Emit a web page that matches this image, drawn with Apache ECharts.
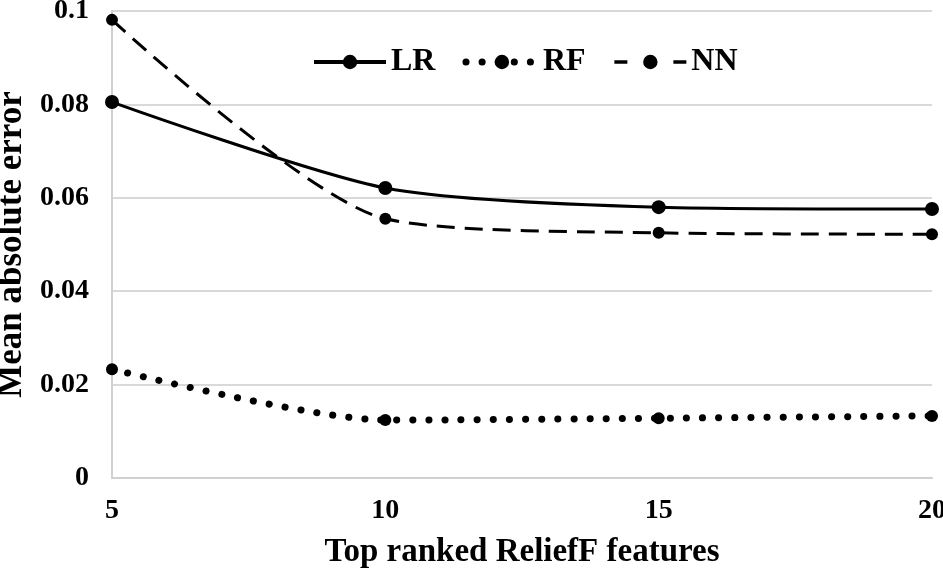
<!DOCTYPE html>
<html><head><meta charset="utf-8">
<script src="https://cdn.jsdelivr.net/npm/echarts@6/dist/echarts.min.js"></script>
<style>html,body{margin:0;padding:0;background:#fff}#c{width:943px;height:572px}</style>
</head><body><div id="c"></div>
<script>
const features = [5, 10, 15, 20];
const lr = [0.0805, 0.0621, 0.058, 0.0576];
const rf = [0.0233, 0.0124, 0.0128, 0.0133];
const nn = [0.0981, 0.0555, 0.0525, 0.0522];
const seriesNames = ['LR', 'RF', 'NN'];

const font = '"Liberation Serif", "DejaVu Serif", serif';
function pairs(vals){ return features.map((f,i)=>[f, vals[i]]); }

const chart = echarts.init(document.getElementById('c'), null, {renderer:'canvas'});
chart.setOption({
  animation:false,
  backgroundColor:'#fff',
  grid:{left:112, right:11, top:11, bottom:94, containLabel:false, outerBoundsMode:'none'},
  legend:{
    top:41, left:307, itemGap:27, itemWidth:72, itemHeight:18,
    textStyle:{fontFamily:font, fontWeight:'bold', fontSize:32, color:'#000'},
    data:[
      {name:seriesNames[0], lineStyle:{width:4}},
      {name:seriesNames[1], lineStyle:{width:7, type:[0.1,16], cap:'round'}},
      {name:seriesNames[2], lineStyle:{width:3.5, type:[13,46]}}
    ]
  },
  xAxis:{
    type:'value', min:5, max:20, interval:5,
    name:'Top ranked ReliefF features', nameLocation:'middle', nameGap:58,
    nameTextStyle:{fontFamily:font, fontWeight:'bold', fontSize:33, color:'#000'},
    axisLine:{lineStyle:{color:'#d0d0d0', width:2}},
    axisTick:{show:false},
    splitLine:{show:false},
    axisLabel:{fontFamily:font, fontWeight:'bold', fontSize:28, color:'#000', margin:19}
  },
  yAxis:{
    type:'value', min:0, max:0.1, interval:0.02,
    name:'Mean absolute error', nameLocation:'middle', nameGap:76,
    nameTextStyle:{fontFamily:font, fontWeight:'bold', fontSize:35, color:'#000'},
    axisLine:{show:true, lineStyle:{color:'#d0d0d0', width:2}},
    axisTick:{show:false},
    splitLine:{lineStyle:{color:'#d9d9d9', width:2}},
    axisLabel:{fontFamily:font, fontWeight:'bold', fontSize:28, color:'#000', margin:23,
      formatter:v=>v===0?'0':String(+v.toFixed(2))}
  },
  series:[
    {name:'LR', type:'line', smooth:0.25, data:pairs(lr), symbol:'circle', symbolSize:14,
     itemStyle:{color:'#000'}, lineStyle:{color:'#000', width:3}},
    {name:'RF', type:'line', smooth:0.25, data:pairs(rf), symbol:'circle', symbolSize:12,
     itemStyle:{color:'#000'}, lineStyle:{color:'#000', width:7, type:[0.1,16], cap:'round'}},
    {name:'NN', type:'line', smooth:0.25, data:pairs(nn), symbol:'circle', symbolSize:12,
     itemStyle:{color:'#000'}, lineStyle:{color:'#000', width:3, type:[18,10]}}
  ]
});
</script></body></html>
